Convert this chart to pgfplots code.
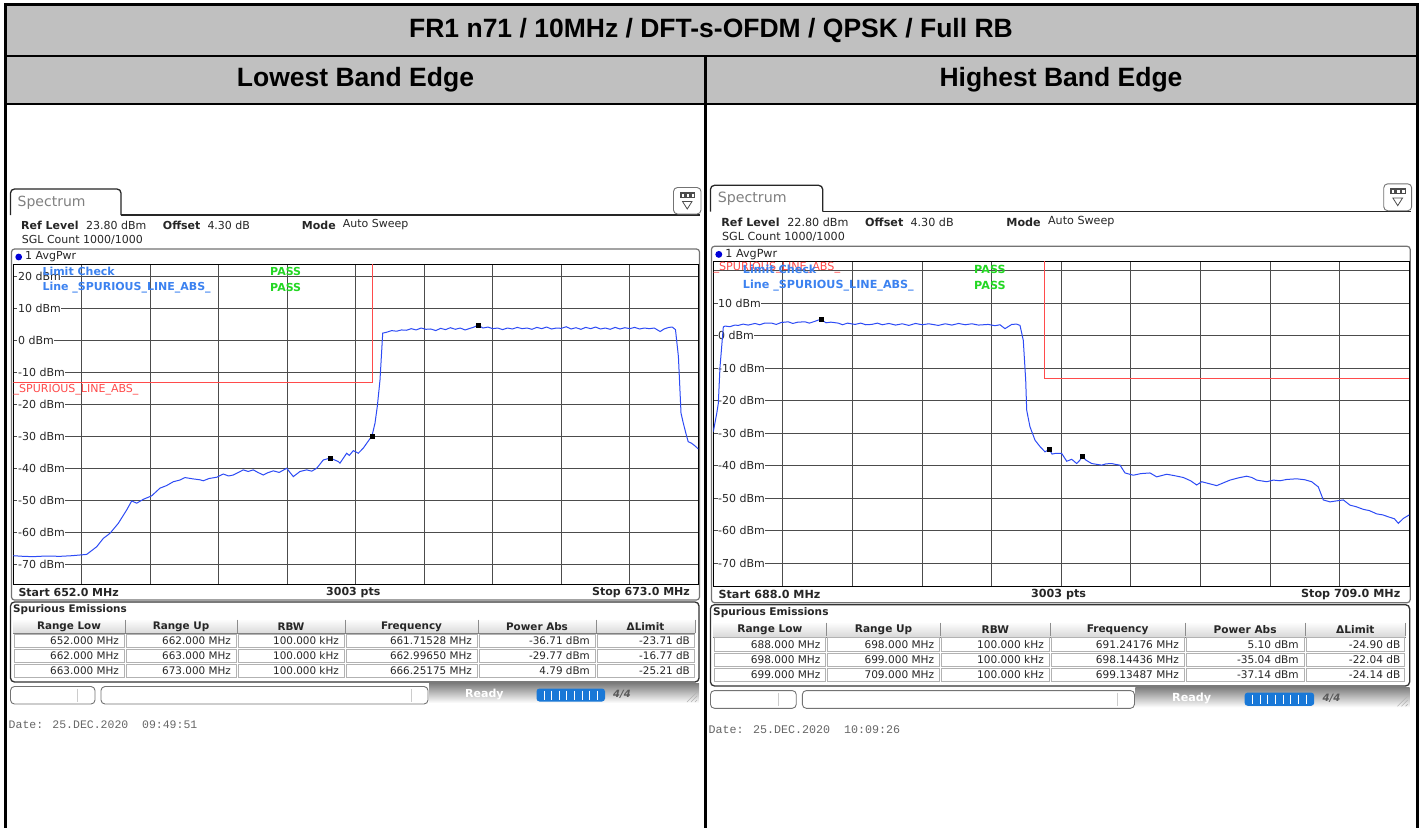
\documentclass[border=0pt]{standalone}
\usepackage{fontspec}
\setmainfont{Liberation Sans}
\newfontfamily\scr{DejaVu Sans}
\newfontfamily\mono{Liberation Mono}
\usepackage{pgfplots}
\pgfplotsset{compat=1.18}
\definecolor{hdr}{RGB}{192,192,192}
\definecolor{trace}{RGB}{45,75,245}
\definecolor{limred}{RGB}{255,75,75}
\definecolor{lcblue}{RGB}{60,130,240}
\definecolor{passg}{RGB}{35,215,35}
\definecolor{rsblue}{RGB}{25,120,215}
\newcommand\Sf{\scr\fontsize{11}{13}\selectfont}
\newcommand\Tf{\scr\fontsize{10.4}{12}\selectfont}
\tikzset{txt/.style={anchor=west, inner sep=0pt, font=\Sf, text=black!85},
  ylab/.style={anchor=west, xshift=4pt, fill=white, inner sep=0.6pt, font=\Sf, text=black!85}}
\pgfplotsset{rs/.style={anchor=north west, scale only axis, xticklabels={}, yticklabels={},
  major tick length=0pt, grid=major, major grid style={line width=1pt, black!70},
  axis line style={line width=1.1pt, black}, ytick={-70,-60,-50,-40,-30,-20,-10,0,10,20}, clip=true}}

\newcommand\screen[5]{%
 \draw[line width=1.3pt, black!85, rounded corners=4pt, fill=white] (10.5,215) -- (10.5,189) -- (121,189) -- (121,215);
 \draw[line width=1.3pt, black!85] (121,215) -- (700,215);
 \node[anchor=west, inner sep=0pt, font=\scr\fontsize{14}{16}\selectfont, text=black!50] at (17.5,202.5) {Spectrum};
 \draw[black!55, line width=0.9pt, rounded corners=4pt, fill=white] (673.5,187.5) rectangle (701,214);
 \fill[black!70] (680,192) rectangle (695,198);
 \foreach \i in {681.5,686.5,691.5} \fill[white] (\i,193.5) rectangle ++(2.5,3);
 \draw[black!70, line width=0.8pt] (682.5,201.5) -- (692,201.5) -- (687.25,209) -- cycle;
 \node[txt] at (21,225) {\bfseries Ref Level};
 \node[txt] at (86,225) {#1};
 \node[txt] at (162.7,225) {\bfseries Offset};
 \node[txt] at (207.3,225) {4.30 dB};
 \node[txt] at (301.7,225) {\bfseries Mode};
 \node[txt] at (342.7,225) {Auto Sweep};
 \node[txt] at (21.7,240) {SGL Count 1000/1000};
 \draw[black!55, line width=1.2pt, rounded corners=3pt] (11.5,249) rectangle (699.5,600);
 \fill[blue!85!black] (18.7,257) circle (3.4);
 \node[txt] at (25,257) {1 AvgPwr};
 \node[txt, font=\Sf\bfseries] at (18.3,592.3) {Start #2};
 \node[font=\Sf\bfseries, inner sep=0pt, text=black!85] at (353.3,592.3) {3003 pts};
 \node[txt, anchor=east, font=\Sf\bfseries] at (690,592.3) {Stop #3};
 \draw[black!80, line width=1.3pt, rounded corners=4pt] (10.5,602) rectangle (699,682);
 \node[txt, font=\Tf\bfseries] at (13,610) {Spurious Emissions};
 \shade[top color=white, bottom color=black!15] (13,619) rectangle (695,633.5);
 \draw[black!50] (13,633.5) -- (695,633.5);
 \foreach \xs in {125,237,345,478,596,695} \draw[black!45, line width=0.8pt] (\xs,619.5) -- (\xs,633);
 \foreach \xa/\xb/\h in {13/125/Range Low, 125/237/Range Up, 237/345/RBW, 345/478/Frequency, 478/596/Power Abs, 596/695/ΔLimit}
   \node[font=\Tf\bfseries, inner sep=0pt, text=black!85] at ({(\xa+\xb)/2},626.5) {\h};
 \foreach \r in {0,1,2} \foreach \xa/\xb in {13/125,125/237,237/345,345/478,478/596,596/695}
   \draw[black!30, line width=0.7pt] ({\xa+1},{634.5+15*\r}) rectangle ({\xb-1},{647.5+15*\r});
 \foreach \r/\vA/\vB/\vC/\vD/\vE/\vF in {#4} {
   \node[txt,anchor=east,font=\Tf] at (119,{641+15*\r}) {\vA};
   \node[txt,anchor=east,font=\Tf] at (231,{641+15*\r}) {\vB};
   \node[txt,anchor=east,font=\Tf] at (339,{641+15*\r}) {\vC};
   \node[txt,anchor=east,font=\Tf] at (472,{641+15*\r}) {\vD};
   \node[txt,anchor=east,font=\Tf] at (590,{641+15*\r}) {\vE};
   \node[txt,anchor=east,font=\Tf] at (690,{641+15*\r}) {\vF};
 }
 \shade[top color=black!50, bottom color=white] (429,683.5) rectangle (699,703);
 \foreach \i in {0,4,8} \draw[black!30, line width=0.6pt] ({687+\i},702) -- ({697},{692+\i});
 \draw[black!55, line width=0.9pt, rounded corners=4pt, fill=white] (10.5,686.5) rectangle (95,704);
 \draw[black!20] (77,688.5) -- (77,702);
 \draw[black!55, line width=0.9pt, rounded corners=4pt, fill=white] (101,686.5) rectangle (428,704);
 \draw[black!20] (411,688.5) -- (411,702);
 \node[txt, font=\Sf\bfseries, text=white] at (465,694) {Ready};
 \fill[rsblue, rounded corners=3pt] (536.5,688.5) rectangle (605,701.5);
 \foreach \i in {1,...,8} \draw[white, line width=0.9pt] ({536.5+\i*7.6},690.5) -- ({536.5+\i*7.6},699.5);
 \node[txt, font=\scr\bfseries\itshape\fontsize{10}{12}\selectfont, text=black!65] at (613,694.5) {4/4};
 \node[anchor=west, font=\mono\fontsize{11.5}{13}\selectfont, text=black!60, inner sep=0pt] at (8.5,725) {#5};
}

\newcommand\overlay[1]{%
 \node[txt, font=\Sf, text=limred] at (#1) {\_SPURIOUS\_LINE\_ABS\_};
 \node[txt, font=\Sf\bfseries, text=lcblue] at (42.3,271.7) {Limit Check};
 \node[txt, font=\Sf\bfseries, text=lcblue] at (42.3,287.7) {Line \_SPURIOUS\_LINE\_ABS\_};
 \node[txt, font=\Sf\bfseries, text=passg] at (270,271.7) {PASS};
 \node[txt, font=\Sf\bfseries, text=passg] at (270,287.7) {PASS};
}

\begin{document}
\begin{tikzpicture}
\path[use as bounding box] (0pt,0pt) rectangle (1421pt,-827pt);
\begin{scope}[x=1pt,y=-1pt]
 \fill[white] (0,0) rectangle (1421,827);
 \fill[hdr] (5.3,4.7) rectangle (1417.5,104.2);
 \draw[line width=2.7pt] (5.3,830) -- (5.3,4.7) -- (1417.5,4.7) -- (1417.5,830);
 \draw[line width=2.3pt] (5.3,55.7) -- (1417.5,55.7);
 \draw[line width=2.3pt] (5.3,104.2) -- (1417.5,104.2);
 \draw[line width=2.3pt] (705.5,55.7) -- (705.5,830);
 \node[font=\bfseries\fontsize{26.5}{30}\selectfont] at (711,31) {FR1 n71 / 10MHz / DFT-s-OFDM / QPSK / Full RB};
 \node[font=\bfseries\fontsize{26.5}{30}\selectfont] at (355.5,80) {Lowest Band Edge};
 \node[font=\bfseries\fontsize{26.5}{30}\selectfont] at (1061,80) {Highest Band Edge};
 \screen{23.80 dBm}{652.0 MHz}{673.0 MHz}{0/652.000 MHz/662.000 MHz/100.000 kHz/661.71528 MHz/-36.71 dBm/-23.71 dB, 1/662.000 MHz/663.000 MHz/100.000 kHz/662.99650 MHz/-29.77 dBm/-16.77 dB, 2/663.000 MHz/673.000 MHz/100.000 kHz/666.25175 MHz/4.79 dBm/-25.21 dB}{Date: 25.DEC.2020\ \ 09:49:51}
\end{scope}
\begin{scope}[x=1pt,y=-1pt,shift={(699.8,-6.6)},scale=1.0155,transform shape]
 \screen{22.80 dBm}{688.0 MHz}{709.0 MHz}{0/688.000 MHz/698.000 MHz/100.000 kHz/691.24176 MHz/5.10 dBm/-24.90 dB, 1/698.000 MHz/699.000 MHz/100.000 kHz/698.14436 MHz/-35.04 dBm/-22.04 dB, 2/699.000 MHz/709.000 MHz/100.000 kHz/699.13487 MHz/-37.14 dBm/-24.14 dB}{Date: 25.DEC.2020\ \ 10:09:26}
\end{scope}

\begin{axis}[rs, at={(13.3pt,-264.3pt)}, width=685pt, height=320.2pt,
  xmin=652, xmax=673, ymin=-76.2, ymax=23.8,
  xtick={652,654.1,656.2,658.3,660.4,662.5,664.6,666.7,668.8,670.9,673}]
 \pgfplotsinvokeforeach{20,10,0,-10,-20,-30,-40,-50,-60,-70}{\node[ylab] at (axis cs:652,#1) {#1 dBm};}
 \addplot[limred, line width=1.1pt] coordinates {(652,-13) (663,-13) (663,40)};
 \addplot[trace, line width=1pt] coordinates {
 (652.000,-67.2) (652.3,-67.4) (652.613,-67.5) (653.0,-67.3) (653.432,-67.4) (653.8,-67.2) (654.250,-66.8)
 (654.557,-64.4) (654.759,-61.8) (654.965,-60.2) (655.219,-57.1) (655.477,-52.9) (655.630,-50.1) (655.783,-50.8)
 (655.985,-49.6) (656.243,-48.5) (656.497,-46.1) (656.7,-45.3) (656.905,-44.1) (657.1,-43.6) (657.264,-42.8)
 (657.5,-43.2) (657.724,-43.5) (657.825,-43.8) (658.0,-43.1) (658.236,-42.7) (658.438,-41.7) (658.6,-42.3) (658.745,-42.0)
 (658.9,-41.2) (659.051,-40.4) (659.2,-40.9) (659.358,-40.4) (659.5,-41.2) (659.664,-42.0) (659.8,-41.3) (659.971,-40.7)
 (660.15,-41.2) (660.382,-39.9) (660.584,-42.5) (660.789,-40.9) (660.995,-40.4) (661.15,-40.8) (661.301,-39.9)
 (661.504,-37.3) (661.715,-36.71) (661.963,-37.8) (662.015,-38.3) (662.221,-35.2) (662.3,-35.9) (662.423,-34.4)
 (662.577,-35.2) (662.730,-33.6) (662.834,-32.1) (662.9965,-29.77) (663.089,-25.8) (663.159,-20.6) (663.242,-12.3)
 (663.325,2.3) (663.45,2.6) (663.6,3.1) (663.75,2.9) (663.9,3.3) (664.05,3.2) (664.2,3.7) (664.35,3.3) (664.5,3.9)
 (664.65,3.5) (664.8,3.6) (664.95,3.1) (665.1,3.8) (665.25,3.4) (665.4,4.0) (665.55,3.5) (665.7,3.9) (665.85,3.3)
 (666.0,3.8) (666.1,4.1) (666.25175,4.79) (666.4,3.9) (666.55,4.2) (666.7,3.7) (666.85,3.9) (667.0,3.4) (667.15,3.9)
 (667.3,3.6) (667.45,4.1) (667.6,3.7) (667.75,3.9) (667.9,3.5) (668.05,4.1) (668.2,3.7) (668.35,4.2) (668.5,3.6)
 (668.65,3.9) (668.8,3.8) (668.95,4.3) (669.1,3.6) (669.25,4.0) (669.4,3.5) (669.55,4.1) (669.7,3.7) (669.85,4.2)
 (670.0,3.6) (670.15,3.9) (670.3,3.5) (670.45,4.1) (670.6,3.6) (670.75,4.0) (670.9,3.7) (671.05,4.1) (671.2,3.6)
 (671.35,3.9) (671.5,3.7) (671.65,3.9) (671.83,2.8) (671.95,3.6) (672.1,4.1) (672.2,4.2) (672.3,3.4) (672.39,-5)
 (672.47,-22.7) (672.54,-25.8) (672.62,-29) (672.69,-31.6) (672.78,-32.0) (672.86,-32.6) (672.93,-33.2) (673.0,-33.9)};
 \addplot[only marks, mark=square*, mark size=2pt, black] coordinates {(661.715,-36.71) (662.9965,-29.77) (666.25175,4.79)};
\end{axis}

\begin{axis}[rs, at={(713.3pt,-261.7pt)}, width=696pt, height=325pt,
  xmin=688, xmax=709, ymin=-77.2, ymax=22.8,
  xtick={688,690.1,692.2,694.3,696.4,698.5,700.6,702.7,704.8,706.9,709}]
 \pgfplotsinvokeforeach{10,0,-10,-20,-30,-40,-50,-60,-70}{\node[ylab] at (axis cs:688,#1) {#1 dBm};}
 \addplot[limred, line width=1.1pt] coordinates {(698,40) (698,-13) (709,-13)};
 \addplot[trace, line width=1pt] coordinates {
 (688.000,-29.5) (688.103,-23.9) (688.151,-20.8) (688.202,-9.6) (688.302,2.7) (688.353,3.0) (688.5,2.8) (688.65,3.3)
 (688.754,3.2) (688.9,3.6) (689.05,3.3) (689.258,3.8) (689.4,3.4) (689.55,3.9) (689.762,3.9) (689.9,3.5) (690.05,4.1)
 (690.263,4.3) (690.4,3.8) (690.55,4.2) (690.767,4.3) (690.9,3.9) (691.05,4.4) (691.24176,5.10) (691.4,4.0)
 (691.55,4.2) (691.771,3.9) (691.9,3.4) (692.05,3.9) (692.275,3.5) (692.45,3.9) (692.6,3.4) (692.779,3.5)
 (692.95,3.9) (693.1,3.4) (693.3,3.8) (693.5,3.3) (693.7,3.7) (693.9,3.2) (694.1,3.8) (694.3,3.4) (694.5,3.7)
 (694.789,3.2) (695.0,3.7) (695.2,3.3) (695.4,3.8) (695.6,3.4) (695.8,3.7) (696.0,3.3) (696.297,3.5) (696.5,3.1)
 (696.65,3.4) (696.801,2.2) (697.003,3.5) (697.15,3.6) (697.254,3.2) (697.353,-1.4) (697.426,-13.7) (697.456,-22.9)
 (697.504,-25.4) (697.555,-28.0) (697.706,-32.1) (697.85,-34.0) (698.008,-35.7) (698.08,-35.3) (698.14436,-35.04)
 (698.22,-36.4) (698.310,-36.2) (698.512,-36.2) (698.663,-38.6) (698.814,-38.0) (698.965,-39.3) (699.05,-38.4)
 (699.13487,-37.14) (699.25,-38.3) (699.417,-39.3) (699.719,-39.8) (699.85,-39.4) (700.020,-39.3) (700.15,-39.6)
 (700.271,-39.8) (700.422,-42.2) (700.672,-42.9) (700.9,-42.4) (701.176,-42.2) (701.378,-43.4) (701.680,-42.6)
 (701.9,-43.0) (702.181,-43.6) (702.4,-44.6) (702.585,-45.9) (702.736,-44.9) (703.0,-45.6) (703.188,-46.1)
 (703.4,-45.2) (703.590,-44.4) (703.85,-43.7) (704.094,-43.2) (704.25,-43.6) (704.396,-44.4) (704.697,-44.9)
 (704.897,-44.4) (705.1,-44.6) (705.301,-44.2) (705.603,-44.0) (705.85,-44.3) (706.055,-44.9) (706.254,-46.5)
 (706.405,-50.5) (706.607,-51.1) (706.8,-50.8) (707.008,-50.5) (707.210,-52.1) (707.4,-52.6) (707.612,-53.4)
 (707.8,-53.8) (708.016,-54.8) (708.2,-55.1) (708.366,-55.7) (708.55,-56.3) (708.668,-57.7) (708.819,-56.2) (709.000,-55.1)};
 \addplot[only marks, mark=square*, mark size=2pt, black] coordinates {(691.24176,5.10) (698.14436,-35.04) (699.13487,-37.14)};
\end{axis}

\begin{scope}[x=1pt,y=-1pt]
 \overlay{13.5,390}
\end{scope}
\begin{scope}[x=1pt,y=-1pt,shift={(699.8,-6.6)},scale=1.0155,transform shape]
 \overlay{13.3,270.4}
\end{scope}
\end{tikzpicture}
\end{document}
